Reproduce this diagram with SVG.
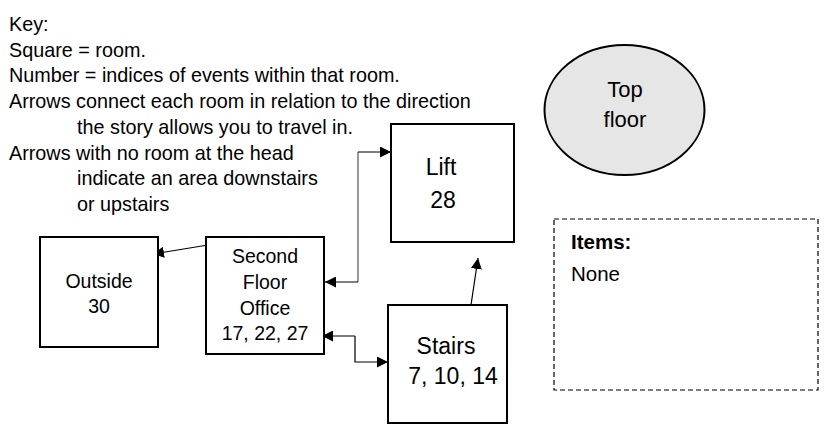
<svg xmlns="http://www.w3.org/2000/svg" width="836" height="447" viewBox="0 0 836 447">
<style>
text{font-family:"Liberation Sans",Arial,sans-serif;fill:#000}
.key{font-size:19.8px}
.n{font-size:19.5px;text-anchor:middle}
.big{font-size:23px;text-anchor:middle}
.box{fill:#fff;stroke:#000;stroke-width:2}
.c{fill:none;stroke:#000;stroke-width:1.2}
.g{fill:none;stroke:#777;stroke-width:1.5}
</style>
<defs>
<marker id="ah" viewBox="0 0 10 10" refX="10" refY="5" markerWidth="11" markerHeight="11" markerUnits="userSpaceOnUse" orient="auto">
<path d="M0,0 L10,5 L0,10 Z" fill="#000"/>
</marker>
</defs>
<rect width="836" height="447" fill="#fff"/>
<g id="key">
<text class="key" x="9" y="31">Key:</text>
<text class="key" x="9" y="57">Square = room.</text>
<text class="key" x="9" y="82">Number = indices of events within that room.</text>
<text class="key" x="9" y="108">Arrows connect each room in relation to the direction</text>
<text class="key" x="77" y="134">the story allows you to travel in.</text>
<text class="key" x="9" y="160">Arrows with no room at the head</text>
<text class="key" x="77" y="185">indicate an area downstairs</text>
<text class="key" x="77" y="211">or upstairs</text>
</g>
<g id="connectors">
<line class="c" x1="208" y1="245" x2="153" y2="254" marker-end="url(#ah)"/>
<path class="g" d="M358,282 L358,152"/>
<path class="c" d="M358,282 L325,282" marker-end="url(#ah)"/>
<path class="c" d="M358,152 L391,152" marker-end="url(#ah)"/>
<path class="c" d="M355,336 L322,336" marker-end="url(#ah)"/>
<path class="c" d="M355,336 L355,362 L388,362" marker-end="url(#ah)"/>
<line class="c" x1="471" y1="305" x2="478" y2="258" marker-end="url(#ah)"/>
</g>
<g id="outside">
<rect class="box" x="40" y="237" width="118" height="110"/>
<text class="n" x="99" y="288">Outside</text>
<text class="n" x="99" y="313">30</text>
</g>
<g id="second-floor-office">
<rect class="box" x="206" y="237" width="118" height="117"/>
<text class="n" x="265" y="263">Second</text>
<text class="n" x="265" y="289">Floor</text>
<text class="n" x="265" y="315">Office</text>
<text class="n" x="265" y="340">17, 22, 27</text>
</g>
<g id="lift">
<rect class="box" x="391" y="124" width="123" height="118"/>
<text class="big" x="441" y="175">Lift</text>
<text class="big" x="443" y="208">28</text>
</g>
<g id="stairs">
<rect class="box" x="388" y="305" width="119" height="118"/>
<text class="big" x="446" y="354">Stairs</text>
<text class="big" x="453" y="384">7, 10, 14</text>
</g>
<g id="top-floor">
<ellipse cx="624.5" cy="110" rx="80" ry="65" fill="#e6e6e6" stroke="#000" stroke-width="2"/>
<text class="n" x="625" y="97" style="font-size:22px">Top</text>
<text class="n" x="625" y="127" style="font-size:22px">floor</text>
</g>
<g id="items">
<rect x="554" y="219" width="264" height="171" fill="none" stroke="#000" stroke-width="1.2" stroke-dasharray="5,3"/>
<text x="571" y="249" style="font-size:20.5px;font-weight:bold">Items:</text>
<text x="571" y="281" style="font-size:20.5px">None</text>
</g>
</svg>
